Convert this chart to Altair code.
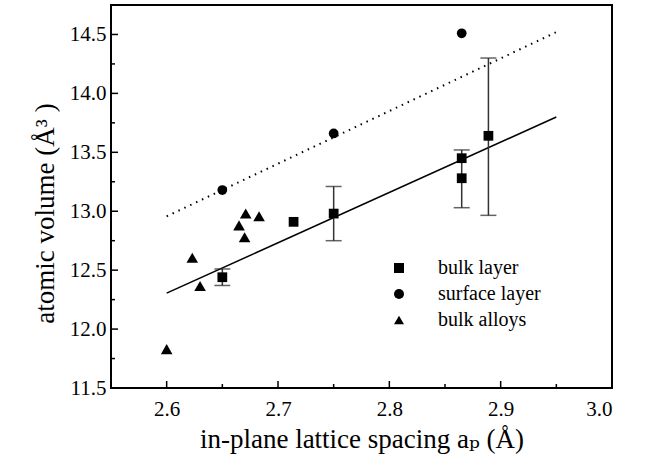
import altair as alt
import pandas as pd

# ---- data ----
layer_x = [2.65, 2.714, 2.75, 2.865, 2.865, 2.889]
layer_y = [12.44, 12.91, 12.98, 13.45, 13.28, 13.64]

err_x = [2.65, 2.75, 2.865, 2.889]
err_lo = [12.37, 12.75, 13.03, 12.965]
err_hi = [12.51, 13.21, 13.52, 14.30]

surf_x = [2.65, 2.75, 2.865]
surf_y = [13.18, 13.66, 14.51]

alloy_x = [2.60, 2.623, 2.630, 2.665, 2.670, 2.671, 2.683]
alloy_y = [11.83, 12.605, 12.365, 12.88, 12.78, 12.98, 12.957]

fit_x = [2.60, 2.95]
fit_bulk_y = [12.305, 13.80]
fit_surf_y = [12.957, 14.52]

x_major = [2.6, 2.7, 2.8, 2.9]
x_minor = [2.65, 2.75, 2.85, 2.95]
y_major = [12.0, 12.5, 13.0, 13.5, 14.0, 14.5]
y_minor = [11.75, 12.25, 12.75, 13.25, 13.75, 14.25]
x_labels = [2.6, 2.7, 2.8, 2.9, 3.0]
y_labels = [11.5, 12.0, 12.5, 13.0, 13.5, 14.0, 14.5]

series_names = ["bulk layer", "surface layer", "bulk alloys"]
series_shapes = ["square", "circle", "triangle-up"]

W, H = 501, 383
FONT = "Liberation Serif, Times New Roman, DejaVu Serif, serif"

pts = pd.DataFrame(
    [{"x": a, "y": b, "s": "bulk layer"} for a, b in zip(layer_x, layer_y)]
    + [{"x": a, "y": b, "s": "surface layer"} for a, b in zip(surf_x, surf_y)]
    + [{"x": a, "y": b, "s": "bulk alloys"} for a, b in zip(alloy_x, alloy_y)]
)
err = pd.DataFrame({"x": err_x, "lo": err_lo, "hi": err_hi})
fits = pd.DataFrame({"x": fit_x, "bulk": fit_bulk_y, "surf": fit_surf_y})

xs = alt.Scale(domain=[2.55, 3.0], nice=False, zero=False)
ys = alt.Scale(domain=[11.5, 14.75], nice=False, zero=False)

xaxis = alt.Axis(values=x_labels, format=".1f", tickSize=0, domain=False, grid=False,
                 labelFont=FONT, labelFontSize=21, labelColor="black", labelPadding=10,
                 title="in-plane lattice spacing aₚ (Å)", titleFont=FONT, titleFontSize=27,
                 titleFontWeight="normal", titleColor="black",
                 titleY=59, titleBaseline="alphabetic")
yaxis = alt.Axis(values=y_labels, format=".1f", tickSize=0, domain=False, grid=False,
                 labelFont=FONT, labelFontSize=21, labelColor="black", labelPadding=5,
                 title="atomic volume (Å³ )", titleFont=FONT, titleFontSize=27,
                 titleFontWeight="normal", titleColor="black",
                 titleX=-58, titleY=208, titleAngle=270, titleBaseline="alphabetic")

base_axes = alt.Chart(pts).mark_point(opacity=0).encode(
    x=alt.X("x:Q", scale=xs, axis=xaxis),
    y=alt.Y("y:Q", scale=ys, axis=yaxis),
)

# inward ticks
xmaj = alt.Chart(pd.DataFrame({"v": x_major})).mark_rule(color="black", strokeWidth=1.5).encode(
    x=alt.X("v:Q", scale=xs), y=alt.value(H), y2=alt.value(H - 7))
xmin = alt.Chart(pd.DataFrame({"v": x_minor})).mark_rule(color="black", strokeWidth=1.5).encode(
    x=alt.X("v:Q", scale=xs), y=alt.value(H), y2=alt.value(H - 4))
ymaj = alt.Chart(pd.DataFrame({"v": y_major})).mark_rule(color="black", strokeWidth=1.5).encode(
    y=alt.Y("v:Q", scale=ys), x=alt.value(0), x2=alt.value(7))
ymin = alt.Chart(pd.DataFrame({"v": y_minor})).mark_rule(color="black", strokeWidth=1.5).encode(
    y=alt.Y("v:Q", scale=ys), x=alt.value(0), x2=alt.value(4))

fit_solid = alt.Chart(fits).mark_line(color="black", strokeWidth=1.5).encode(
    x=alt.X("x:Q", scale=xs), y=alt.Y("bulk:Q", scale=ys))
fit_dot = alt.Chart(fits).mark_line(color="black", strokeWidth=2, strokeDash=[1.5, 5]).encode(
    x=alt.X("x:Q", scale=xs), y=alt.Y("surf:Q", scale=ys))

ebar = alt.Chart(err).mark_rule(color="#333333", strokeWidth=1.5).encode(
    x=alt.X("x:Q", scale=xs), y=alt.Y("lo:Q", scale=ys), y2="hi:Q")
cap_lo = alt.Chart(err).mark_tick(color="#222222", thickness=1.5, size=16, orient="horizontal").encode(
    x=alt.X("x:Q", scale=xs), y=alt.Y("lo:Q", scale=ys))
cap_hi = alt.Chart(err).mark_tick(color="#222222", thickness=1.5, size=16, orient="horizontal").encode(
    x=alt.X("x:Q", scale=xs), y=alt.Y("hi:Q", scale=ys))

points = alt.Chart(pts).mark_point(filled=True, color="black", opacity=1).encode(
    x=alt.X("x:Q", scale=xs),
    y=alt.Y("y:Q", scale=ys),
    size=alt.condition(alt.datum.s == "bulk alloys", alt.value(135), alt.value(95)),
    shape=alt.Shape("s:N", scale=alt.Scale(domain=series_names, range=series_shapes),
                    legend=alt.Legend(title=None, orient="none", legendX=278, legendY=253,
                                      labelFont=FONT, labelFontSize=20, labelColor="black",
                                      labelOffset=29, rowPadding=6, symbolSize=100,
                                      symbolFillColor="black", symbolStrokeColor="black",
                                      symbolOpacity=1, padding=0)),
)

chart = alt.layer(base_axes, xmaj, xmin, ymaj, ymin, fit_dot, fit_solid, ebar, cap_lo, cap_hi, points).properties(
    width=W, height=H,
    autosize=alt.AutoSizeParams(type="none"),
    padding={"left": 111, "top": 5, "right": 35, "bottom": 78},
    background="white",
).configure_view(stroke="black", strokeWidth=2)

chart.save("out.html", embed_options={"renderer": "svg", "actions": False})
